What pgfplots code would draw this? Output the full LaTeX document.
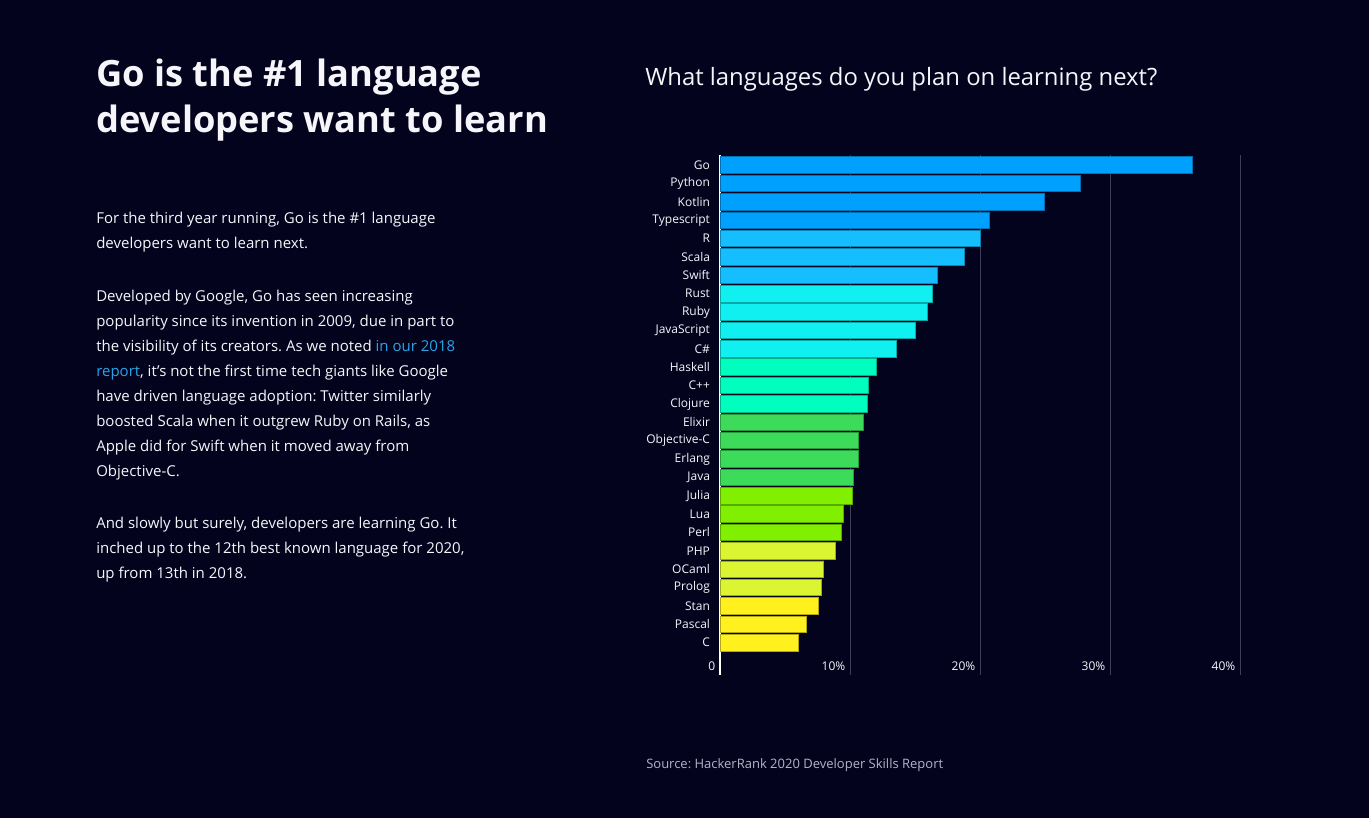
\documentclass[border=0pt]{standalone}
\usepackage{pgfplots}
\pgfplotsset{compat=1.18}
\usepackage{fontspec}
\setmainfont{Open Sans}
\frenchspacing
\definecolor{bg}{RGB}{3,3,30}
\definecolor{txt}{RGB}{246,246,250}
\definecolor{link}{RGB}{40,165,230}
\definecolor{srcc}{RGB}{180,180,200}
\definecolor{gridc}{RGB}{62,62,92}
\definecolor{g1}{RGB}{0,160,255}
\definecolor{g2}{RGB}{20,190,255}
\definecolor{g3}{RGB}{16,240,240}
\definecolor{g4}{RGB}{0,255,190}
\definecolor{g5}{RGB}{60,220,90}
\definecolor{g6}{RGB}{128,240,0}
\definecolor{g7}{RGB}{220,245,50}
\definecolor{g8}{RGB}{255,240,30}
\begin{document}
\begin{tikzpicture}
\fill[bg] (0,0) rectangle (1026.75pt,-613.5pt);
% title
\begin{scope}[every node/.style={anchor=base west, inner sep=0pt, text=txt}]
\node[font=\fontsize{27.2}{27.2}\selectfont\bfseries] at (72pt,-64.5pt) {Go is the \#1 language};
\node[font=\fontsize{27.2}{27.2}\selectfont\bfseries] at (72pt,-99.4pt) {developers want to learn};
\begin{scope}[every node/.append style={font=\fontsize{11.25}{11.25}\selectfont}]
\node at (72pt,-167.25pt) {For the third year running, Go is the \#1 language};
\node at (72pt,-186pt) {developers want to learn next.};
\node at (72pt,-225.75pt) {Developed by Google, Go has seen increasing};
\node at (72pt,-244.5pt) {popularity since its invention in 2009, due in part to};
\node at (72pt,-263.25pt) {the visibility of its creators. As we noted \textcolor{link}{in our 2018}};
\node at (72pt,-282pt) {\textcolor{link}{report}, it’s not the first time tech giants like Google};
\node at (72pt,-300.75pt) {have driven language adoption: Twitter similarly};
\node at (72pt,-319.5pt) {boosted Scala when it outgrew Ruby on Rails, as};
\node at (72pt,-338.25pt) {Apple did for Swift when it moved away from};
\node at (72pt,-357pt) {Objective-C.};
\node at (72pt,-396pt) {And slowly but surely, developers are learning Go. It};
\node at (72pt,-414.75pt) {inched up to the 12th best known language for 2020,};
\node at (72pt,-433.5pt) {up from 13th in 2018.};
\end{scope}
\node[font=\fontsize{17.9}{17.9}\selectfont] at (483.75pt,-64pt) {What languages do you plan on learning next?};
\node[font=\fontsize{9.75}{9.75}\selectfont, text=srcc] at (484.5pt,-576pt) {Source: HackerRank 2020 Developer Skills Report};
\end{scope}
\begin{axis}[
  at={(540pt,-506.25pt)}, anchor=south west,
  width=390pt, height=390pt, scale only axis,
  xmin=0, xmax=40, ymin=-1.76, ymax=26.55,
  separate axis lines,
  axis x line*=bottom, axis y line*=left,
  x axis line style={draw=none},
  y axis line style={draw=white, line width=1.6pt, -},
  major tick length=0pt,
  xmajorgrids, major grid style={draw=gridc, line width=0.75pt},
  xtick={0,10,20,30,40},
  xticklabels={0,10\%,20\%,30\%,40\%},
  xticklabel style={anchor=east, yshift=6.75pt, xshift=0pt, font=\fontsize{9}{9}\selectfont, text=txt},
  ytick={0,...,26},
  yticklabels={C,Pascal,Stan,Prolog,OCaml,PHP,Perl,Lua,Julia,Java,Erlang,Objective-C,Elixir,Clojure,C++,Haskell,C\#,JavaScript,Ruby,Rust,Swift,Scala,R,Typescript,Kotlin,Python,Go},
  yticklabel style={anchor=east, xshift=-4pt, font=\fontsize{9}{9}\selectfont, text=txt},
  /pgf/number format/assume math mode=true,
  xbar, bar width=0.9, bar shift=0pt,
  clip=false,
]
\addplot[fill=g1, draw=g1!70!black, line width=0.6pt] coordinates {(36.3,26) (27.76,25) (24.96,24) (20.75,23)};
\addplot[fill=g2, draw=g2!70!black, line width=0.6pt] coordinates {(20.05,22) (18.78,21) (16.75,20)};
\addplot[fill=g3, draw=g3!70!black, line width=0.6pt] coordinates {(16.37,19) (15.98,18) (15.04,17) (13.57,16)};
\addplot[fill=g4, draw=g4!70!black, line width=0.6pt] coordinates {(12.04,15) (11.45,14) (11.36,13)};
\addplot[fill=g5, draw=g5!70!black, line width=0.6pt] coordinates {(11.04,12) (10.65,11) (10.65,10) (10.25,9)};
\addplot[fill=g6, draw=g6!70!black, line width=0.6pt] coordinates {(10.15,8) (9.48,7) (9.36,6)};
\addplot[fill=g7, draw=g7!70!black, line width=0.6pt] coordinates {(8.89,5) (7.98,4) (7.77,3)};
\addplot[fill=g8, draw=g8!70!black, line width=0.6pt] coordinates {(7.56,2) (6.65,1) (6.06,0)};
\end{axis}
\end{tikzpicture}
\end{document}
